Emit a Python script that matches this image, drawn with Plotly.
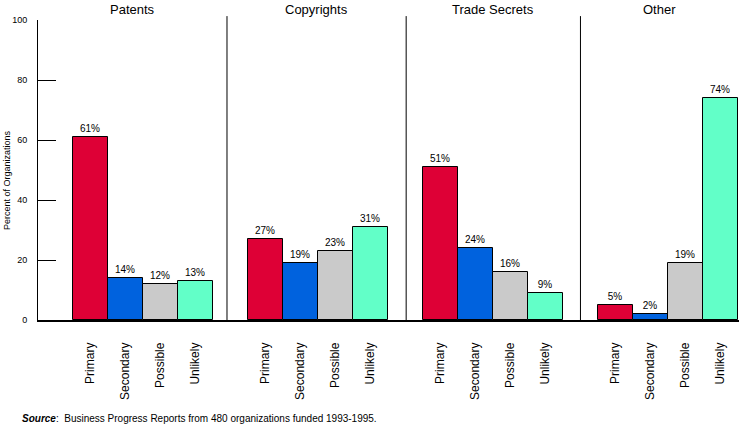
import plotly.graph_objects as go

groups = ["Patents", "Copyrights", "Trade Secrets", "Other"]
series = ["Primary", "Secondary", "Possible", "Unlikely"]
primary = [61, 27, 51, 5]
secondary = [14, 19, 24, 2]
possible = [12, 23, 16, 19]
unlikely = [13, 31, 9, 74]
yticks = [0, 20, 40, 60, 80, 100]
source_label = "Source"
source_text = "Business Progress Reports from 480 organizations funded 1993-1995."
y_title = "Percent of Organizations"

values = [primary, secondary, possible, unlikely]
colors = ["#DE0036", "#0062DE", "#CACACA", "#62FFC8"]

FONT = "Liberation Sans, Arial, Helvetica, sans-serif"

fig = go.Figure()
tickvals, ticktext = [], []
for k, (name, vals, col) in enumerate(zip(series, values, colors)):
    xs = [g * 5 + 1.5 + k for g in range(len(groups))]
    fig.add_trace(go.Bar(
        x=xs, y=vals, width=1, name=name,
        marker=dict(color=col, line=dict(color="black", width=1)),
        text=[f"{v}%" for v in vals], textposition="outside",
        textfont=dict(size=10, color="black", family=FONT),
        cliponaxis=False,
    ))
    tickvals += xs
    ticktext += [name] * len(groups)

# separators
for xs in [5.4, 10.52, 15.5]:
    fig.add_shape(type="line", xref="x", yref="paper", x0=xs, x1=xs, y0=0, y1=1.013,
                  line=dict(color="black", width=1))

# group titles
bounds = [0, 5.4, 10.52, 15.5, 20.03]
for i, g in enumerate(groups):
    fig.add_annotation(x=(bounds[i] + bounds[i + 1]) / 2, y=1, xref="x", yref="paper",
                       yanchor="bottom", text=g, showarrow=False,
                       font=dict(size=13, color="black", family=FONT), yshift=1)

fig.add_annotation(x=(7 - 38) / 701, y=(320 - 180) / 300, xref="paper", yref="paper",
                   text=y_title, showarrow=False, textangle=-90,
                   xanchor="center", yanchor="middle",
                   font=dict(size=9, color="black", family=FONT))

fig.add_annotation(x=(20 - 38) / 701, y=(320 - 418) / 300, xref="paper", yref="paper",
                   showarrow=False,
                   text=f"<b><i>{source_label}</i></b>:  {source_text}",
                   font=dict(size=10, color="black", family=FONT),
                   xanchor="left", yanchor="middle")

fig.update_layout(
    width=739, height=426,
    margin=dict(l=38, r=0, t=20, b=106),
    paper_bgcolor="white", plot_bgcolor="white",
    showlegend=False, bargap=0,
    font=dict(family=FONT, color="black"),
    xaxis=dict(range=[0, 20.03], tickvals=tickvals, ticktext=ticktext, tickangle=-90,
               ticks="", showline=True, linecolor="black", linewidth=1.5, showgrid=False,
               zeroline=False, tickfont=dict(size=12, family=FONT), ticklabelstandoff=16),
    yaxis=dict(range=[0, 100], tickvals=yticks, ticks="inside", ticklen=18, tickcolor="black",
               tickwidth=1, showline=True, linecolor="black", linewidth=1, showgrid=False,
               zeroline=False, tickfont=dict(size=9, family=FONT), ticklabelstandoff=8),
)

fig.write_html("out.html", config={"displayModeBar": False},
               post_script="document.body.style.margin='0';document.body.style.overflow='hidden';")
